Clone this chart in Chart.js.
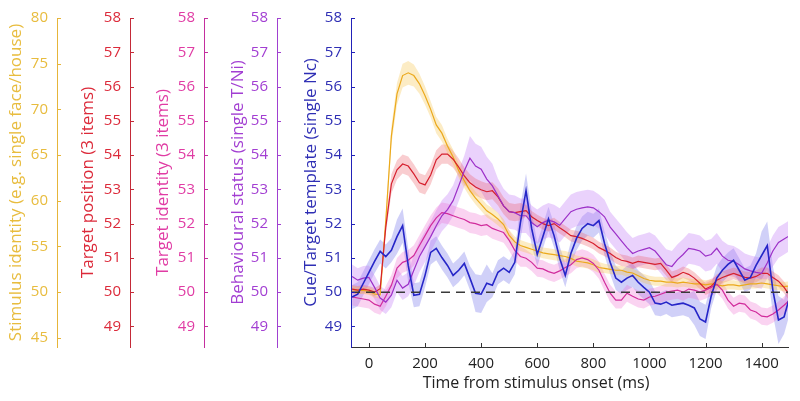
<!DOCTYPE html>
<html>
<head>
<meta charset="utf-8">
<script src="https://cdn.jsdelivr.net/npm/chart.js@4.4.0/dist/chart.umd.min.js"></script>
<style>
  html, body { margin: 0; padding: 0; background: #fff; }
  #contenedor { width: 800px; height: 401px; }
</style>
</head>
<body>
<div id="contenedor"><canvas id="grafico"></canvas></div>
<script>
const fuente = '"Open Sans", "DejaVu Sans", sans-serif';

// Tiempo (ms) desde el inicio del estimulo
const tiempos = [
    -60, -40, -20, 0, 20, 40, 60, 80, 100, 120, 140, 160, 180, 200, 220, 240, 260, 280, 300, 320,
    340, 360, 380, 400, 420, 440, 460, 480, 500, 520, 540, 560, 580, 600, 620, 640, 660, 680, 700, 720,
    740, 760, 780, 800, 820, 840, 860, 880, 900, 920, 940, 960, 980, 1000, 1020, 1040, 1060, 1080, 1100, 1120,
    1140, 1160, 1180, 1200, 1220, 1240, 1260, 1280, 1300, 1320, 1340, 1360, 1380, 1400, 1420, 1440, 1460, 1480, 1500
];

// Identidad del estimulo (eje amarillo, 45-80)
const identidadEstimulo = [
    50.3, 50.2, 50.2, 50.1, 49.8, 49.7, 57.8, 67.1, 71.7, 73.7, 74.0, 73.7, 72.8, 71.5, 70.0, 68.3, 67.4, 66.0, 64.8, 63.3,
    62.2, 61.1, 60.3, 59.6, 58.9, 58.5, 58.0, 57.4, 56.2, 55.5, 55.1, 54.9, 54.7, 54.5, 54.3, 54.2, 54.1, 54.0, 53.9, 53.7,
    53.4, 53.3, 53.2, 53.0, 52.7, 52.6, 52.5, 52.4, 52.4, 52.2, 52.1, 51.8, 51.5, 51.3, 51.2, 51.2, 51.1, 51.1, 51.0, 51.1,
    51.0, 50.9, 50.9, 50.8, 50.9, 50.8, 50.7, 50.8, 50.8, 50.7, 50.8, 50.9, 50.9, 51.0, 50.9, 50.8, 50.7, 50.6, 50.7
];
const semEstimulo = [
    0.4, 0.4, 0.4, 0.4, 0.4, 0.4, 0.8, 1.0, 1.2, 1.3, 1.3, 1.2, 1.1, 1.0, 0.9, 0.9, 0.9, 0.8, 0.8, 0.8,
    0.8, 0.7, 0.7, 0.7, 0.7, 0.7, 0.7, 0.6, 0.6, 0.6, 0.6, 0.6, 0.6, 0.6, 0.6, 0.6, 0.6, 0.6, 0.6, 0.6,
    0.6, 0.6, 0.6, 0.6, 0.6, 0.5, 0.5, 0.5, 0.5, 0.5, 0.5, 0.5, 0.5, 0.5, 0.5, 0.5, 0.5, 0.5, 0.5, 0.5,
    0.5, 0.5, 0.5, 0.5, 0.5, 0.5, 0.5, 0.5, 0.5, 0.5, 0.5, 0.5, 0.5, 0.5, 0.5, 0.5, 0.5, 0.5, 0.5
];

// Posicion del objetivo (3 items)
const posicionObjetivo = [
    50.09, 50.06, 50.09, 50.06, 50.0, 50.1, 51.9, 53.16, 53.57, 53.74, 53.68, 53.45, 53.19, 53.13, 53.42, 53.86, 54.03, 54.03, 53.88, 53.65,
    53.39, 53.19, 53.07, 52.99, 52.93, 52.96, 52.78, 52.52, 52.35, 52.32, 52.35, 52.38, 52.2, 52.09, 52.0, 51.94, 52.0, 51.88, 51.77, 51.65,
    51.62, 51.57, 51.5, 51.42, 51.3, 51.22, 51.13, 51.01, 50.93, 50.9, 50.84, 50.9, 50.87, 50.84, 50.81, 50.84, 50.64, 50.43, 50.49, 50.58,
    50.52, 50.41, 50.26, 50.09, 50.17, 50.35, 50.43, 50.49, 50.55, 50.49, 50.43, 50.41, 50.46, 50.55, 50.55, 50.43, 50.32, 50.14, 49.91
];
const semPosicion = [
    0.12, 0.12, 0.12, 0.12, 0.12, 0.12, 0.2, 0.28, 0.28, 0.28, 0.28, 0.28, 0.28, 0.28, 0.28, 0.28, 0.28, 0.28, 0.25, 0.25,
    0.25, 0.25, 0.25, 0.25, 0.25, 0.25, 0.25, 0.25, 0.25, 0.25, 0.25, 0.17, 0.17, 0.17, 0.17, 0.17, 0.17, 0.17, 0.17, 0.17,
    0.17, 0.17, 0.17, 0.17, 0.17, 0.17, 0.17, 0.17, 0.17, 0.17, 0.17, 0.17, 0.17, 0.17, 0.17, 0.17, 0.17, 0.17, 0.17, 0.17,
    0.17, 0.17, 0.17, 0.17, 0.17, 0.17, 0.17, 0.17, 0.17, 0.17, 0.17, 0.17, 0.17, 0.17, 0.17, 0.17, 0.17, 0.17, 0.17
];

// Identidad del objetivo (3 items)
const identidadObjetivo = [
    49.86, 49.83, 49.8, 49.77, 49.65, 49.59, 49.88, 50.2, 50.7, 50.87, 50.93, 51.07, 51.36, 51.65, 51.94, 52.17, 52.32, 52.29, 52.23, 52.17,
    52.12, 52.03, 52.0, 51.94, 51.97, 51.86, 51.8, 51.74, 51.51, 51.22, 51.04, 50.99, 50.87, 50.7, 50.68, 50.6, 50.55, 50.62, 50.72, 50.8,
    50.95, 51.0, 50.95, 50.84, 50.64, 50.29, 49.97, 49.77, 49.77, 49.97, 49.88, 49.8, 49.77, 49.86, 49.88, 49.94, 50.0, 50.03, 50.06, 50.0,
    50.09, 50.06, 50.0, 50.06, 50.14, 50.23, 50.06, 49.77, 49.59, 49.68, 49.65, 49.48, 49.42, 49.3, 49.28, 49.36, 49.48, 49.62, 49.77
];
const semIdentidad = [
    0.25, 0.25, 0.25, 0.25, 0.25, 0.25, 0.3, 0.3, 0.3, 0.3, 0.3, 0.3, 0.3, 0.3, 0.3, 0.3, 0.3, 0.3, 0.3, 0.3,
    0.3, 0.3, 0.3, 0.3, 0.3, 0.3, 0.3, 0.3, 0.3, 0.3, 0.3, 0.25, 0.25, 0.25, 0.25, 0.25, 0.25, 0.25, 0.25, 0.25,
    0.25, 0.25, 0.25, 0.25, 0.25, 0.25, 0.25, 0.25, 0.25, 0.25, 0.25, 0.25, 0.25, 0.25, 0.25, 0.25, 0.25, 0.25, 0.25, 0.25,
    0.25, 0.25, 0.25, 0.25, 0.25, 0.25, 0.25, 0.25, 0.25, 0.25, 0.25, 0.25, 0.25, 0.25, 0.25, 0.25, 0.25, 0.25, 0.25
];

// Estado conductual (single T/Ni)
const estadoConductual = [
    50.46, 50.35, 50.41, 50.43, 50.14, 49.83, 49.71, 49.91, 50.35, 50.12, 50.23, 50.64, 51.04, 51.33, 51.62, 51.94, 52.23, 52.41, 52.67, 53.1,
    53.54, 53.91, 53.68, 53.59, 53.3, 53.1, 52.81, 52.52, 52.35, 52.32, 52.23, 52.23, 52.03, 51.91, 52.03, 52.1, 52.05, 51.95, 52.15, 52.35,
    52.42, 52.46, 52.49, 52.46, 52.35, 52.2, 51.9, 51.7, 51.5, 51.3, 51.13, 51.2, 51.25, 51.3, 51.2, 51.0, 50.8, 50.75, 50.95, 51.1,
    51.28, 51.25, 51.2, 51.05, 51.1, 51.28, 51.05, 50.93, 50.9, 50.8, 50.68, 50.62, 50.58, 50.55, 50.85, 51.2, 51.45, 51.55, 51.65
];
const semConducta = [
    0.35, 0.35, 0.35, 0.35, 0.35, 0.35, 0.35, 0.35, 0.35, 0.35, 0.35, 0.45, 0.45, 0.45, 0.45, 0.45, 0.45, 0.45, 0.45, 0.45,
    0.45, 0.65, 0.65, 0.65, 0.65, 0.65, 0.5, 0.5, 0.5, 0.5, 0.5, 0.5, 0.5, 0.5, 0.5, 0.5, 0.5, 0.5, 0.5, 0.5,
    0.5, 0.5, 0.5, 0.5, 0.5, 0.5, 0.45, 0.45, 0.45, 0.45, 0.45, 0.45, 0.45, 0.45, 0.45, 0.45, 0.45, 0.45, 0.45, 0.45,
    0.45, 0.45, 0.45, 0.45, 0.45, 0.45, 0.45, 0.45, 0.45, 0.45, 0.45, 0.45, 0.45, 0.45, 0.45, 0.45, 0.45, 0.45, 0.45
];

// Plantilla clave/objetivo (single Nc)
const plantillaClave = [
    49.86, 49.94, 50.26, 50.58, 50.9, 51.19, 51.04, 51.22, 51.62, 51.94, 50.78, 49.91, 49.94, 50.49, 51.16, 51.28, 51.01, 50.78, 50.49, 50.64,
    50.84, 50.41, 49.97, 49.94, 50.26, 50.2, 50.58, 50.7, 50.58, 50.87, 52.03, 52.96, 51.86, 51.1, 51.62, 52.14, 51.65, 50.99, 50.49, 51.13,
    51.57, 51.86, 52.0, 51.94, 52.09, 51.42, 50.87, 50.41, 50.29, 50.41, 50.49, 50.29, 50.14, 50.0, 49.68, 49.65, 49.71, 49.62, 49.65, 49.68,
    49.62, 49.54, 49.22, 49.13, 49.88, 50.41, 50.64, 50.81, 50.93, 50.64, 50.35, 50.43, 50.78, 51.07, 51.36, 50.06, 49.19, 49.28, 49.86
];
const semPlantilla = [
    0.35, 0.35, 0.35, 0.35, 0.35, 0.35, 0.35, 0.35, 0.5, 0.5, 0.5, 0.35, 0.35, 0.35, 0.35, 0.35, 0.35, 0.35, 0.35, 0.35,
    0.35, 0.35, 0.55, 0.55, 0.55, 0.35, 0.35, 0.35, 0.35, 0.35, 0.5, 0.5, 0.5, 0.35, 0.35, 0.35, 0.35, 0.35, 0.35, 0.35,
    0.35, 0.35, 0.35, 0.35, 0.35, 0.35, 0.35, 0.35, 0.35, 0.35, 0.35, 0.35, 0.35, 0.35, 0.35, 0.35, 0.35, 0.35, 0.35, 0.35,
    0.35, 0.5, 0.5, 0.5, 0.35, 0.35, 0.35, 0.35, 0.35, 0.35, 0.35, 0.35, 0.35, 0.7, 0.7, 0.7, 0.7, 0.5, 0.5
];

// Limites del eje de tiempo y nivel de azar (linea discontinua)
const limitesTiempo = [-64, 1494];
const nivelAzar = [50, 50];

const series = [
    { media: identidadEstimulo, sem: semEstimulo, eje: 'yEstimulo', linea: '#EBA91C', banda: 'rgba(245, 200, 90, 0.35)', grosor: 1.2 },
    { media: posicionObjetivo, sem: semPosicion, eje: 'yPosicion', linea: '#D6202E', banda: 'rgba(235, 90, 100, 0.3)', grosor: 1.2 },
    { media: identidadObjetivo, sem: semIdentidad, eje: 'yIdentidad', linea: '#D12C9C', banda: 'rgba(240, 110, 210, 0.3)', grosor: 1.2 },
    { media: estadoConductual, sem: semConducta, eje: 'yConducta', linea: '#9C30C8', banda: 'rgba(195, 125, 245, 0.35)', grosor: 1.2 },
    { media: plantillaClave, sem: semPlantilla, eje: 'yPlantilla', linea: '#2626C8', banda: 'rgba(120, 120, 235, 0.35)', grosor: 1.6 }
];

function puntos(valores, desvio, signo) {
    return tiempos.map((t, i) => ({ x: t, y: valores[i] + signo * desvio[i] }));
}

const datasets = [];
series.forEach(s => {
    // banda superior e inferior
    datasets.push({
        data: puntos(s.media, s.sem, 1), yAxisID: s.eje, fill: '+1',
        backgroundColor: s.banda, borderWidth: 0, pointRadius: 0, order: 10
    });
    datasets.push({
        data: puntos(s.media, s.sem, -1), yAxisID: s.eje, fill: false,
        borderWidth: 0, pointRadius: 0, order: 10
    });
});
series.forEach((s, k) => {
    datasets.push({
        data: puntos(s.media, s.sem, 0), yAxisID: s.eje, fill: false,
        borderColor: s.linea, borderWidth: s.grosor, pointRadius: 0, order: 5 - k
    });
});
datasets.push({
    data: [{ x: -64, y: nivelAzar[0] }, { x: 1500, y: nivelAzar[1] }], yAxisID: 'yPlantilla', fill: false,
    borderColor: '#3a3a3a', borderWidth: 1.5, borderDash: [9, 6], pointRadius: 0, order: 0
});

function ejeY(colorEje, colorTexto, titulo, min, max, paso, ancho, relleno, peso) {
    return {
        type: 'linear', position: 'left', min: min, max: max, weight: peso,
        afterFit: escala => { escala.width = ancho; },
        grid: { display: false, drawTicks: false },
        border: { display: true, color: colorEje, width: 1 },
        ticks: { stepSize: paso, includeBounds: false, color: colorTexto, padding: 9, font: { size: 15, family: fuente } },
        title: { display: true, text: titulo, color: colorTexto, padding: { top: relleno, bottom: 0 }, font: { size: 17, family: fuente } }
    };
}

// Marcas hacia dentro y titulo del eje x
const marcasInternas = {
    id: 'marcasInternas',
    afterDraw(chart) {
        const ctx = chart.ctx;
        ctx.save();
        Object.values(chart.scales).forEach(escala => {
            ctx.strokeStyle = escala.options.border.color;
            ctx.lineWidth = 1;
            escala.ticks.forEach(tick => {
                const p = Math.round(escala.getPixelForValue(tick.value)) + 0.5;
                ctx.beginPath();
                if (escala.isHorizontal()) {
                    ctx.moveTo(p, escala.top);
                    ctx.lineTo(p, escala.top - 4);
                } else {
                    ctx.moveTo(escala.right, p);
                    ctx.lineTo(escala.right + 4, p);
                }
                ctx.stroke();
            });
        });
        ctx.fillStyle = '#222';
        ctx.font = '16px ' + fuente;
        ctx.textAlign = 'center';
        ctx.textBaseline = 'middle';
        ctx.fillText('Time from stimulus onset (ms)', 536, 383);
        ctx.restore();
    }
};

new Chart(document.getElementById('grafico'), {
    type: 'line',
    data: { datasets: datasets },
    plugins: [marcasInternas],
    options: {
        responsive: true,
        maintainAspectRatio: false,
        animation: false,
        layout: { padding: { left: 0, right: 12, top: 16, bottom: 0 } },
        elements: { line: { tension: 0 } },
        plugins: { legend: { display: false }, tooltip: { enabled: false } },
        scales: {
            x: {
                type: 'linear', position: 'bottom', min: limitesTiempo[0], max: limitesTiempo[1],
                afterFit: escala => { escala.height = 54; },
                grid: { display: false, drawTicks: false },
                border: { display: true, color: '#333', width: 1 },
                ticks: {
                    stepSize: 200, includeBounds: false, maxRotation: 0, format: { useGrouping: false },
                    color: '#222', padding: 8, font: { size: 15, family: fuente }
                },
                title: { display: false }
            },
            yPlantilla: ejeY('#2222B8', '#2E2EB4', 'Cue/Target template (single Nc)', 48.4, 58, 1, 74, 24, 0),
            yConducta: ejeY('#A040D0', '#A23ED2', 'Behavioural status (single T/Ni)', 48.4, 58, 1, 73, 24, 1),
            yIdentidad: ejeY('#C42E9E', '#E03CA4', 'Target identity (3 items)', 48.4, 58, 1, 74, 23, 2),
            yPosicion: ejeY('#C42A38', '#DC2A3A', 'Target position (3 items)', 48.4, 58, 1, 73, 21, 3),
            yEstimulo: ejeY('#E6B53A', '#E8BC3E', 'Stimulus identity (e.g. single face/house)', 44, 80, 5, 57, 6, 4)
        }
    }
});
</script>
</body>
</html>
